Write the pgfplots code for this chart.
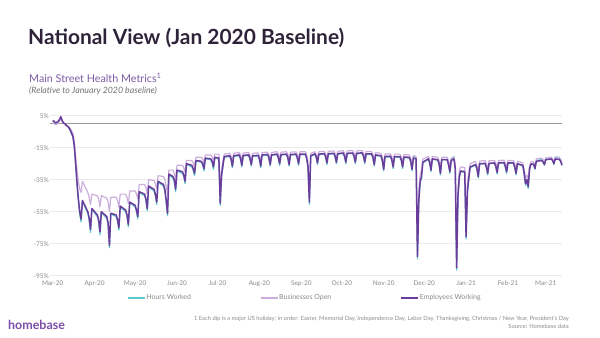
\documentclass[border=0pt]{standalone}
\usepackage{pgfplots}
\pgfplotsset{compat=1.18}
\usepackage{pgfplotstable}
\usepackage{fontspec}
\setmainfont{Lato}
\definecolor{hrs}{HTML}{5FCACB}
\definecolor{biz}{HTML}{CBAEDC}
\definecolor{emp}{HTML}{6A3D9C}
\definecolor{titlec}{HTML}{2E2339}
\definecolor{subc}{HTML}{7D5BA6}
\definecolor{tickc}{HTML}{8A8A8A}
\definecolor{gridc}{HTML}{EBEBEB}
\definecolor{logoc}{HTML}{7A4DA8}
\pgfplotstableread{
d emp biz hrs
0 2.0 0.5 1.5
1 1.5 0.0 1.0
2 0.5 -0.5 0.3
3 0.8 -0.3 0.5
4 1.5 0.3 1.2
5 2.5 1.5 2.2
6 4.4 3.5 4.2
7 2.0 1.5 1.8
8 0.5 0.3 0.3
9 0.0 -0.5 -0.2
10 -1.0 -1.0 -1.2
11 -1.5 -1.5 -1.7
12 -2.5 -2.0 -2.8
13 -4.0 -3.0 -4.3
14 -6.0 -4.5 -6.5
15 -8 -6 -8.5
16 -14 -11 -14.5
17 -25 -20 -25.5
18 -37 -29 -38
19 -47 -36 -48
20 -55 -41 -56.5
21 -59.6 -43 -61.5
22 -48 -36 -48.5
26 -55 -43 -56
27 -59 -46 -60.5
28 -66 -50.5 -68
29 -53 -44 -53.5
33 -57 -45 -58
34 -60 -47 -61.5
35 -67.5 -52 -69.5
36 -55 -45 -55.5
40 -58 -46.5 -59
41 -62 -49 -63.5
42 -76 -55 -77.5
43 -56 -46 -56.5
47 -57 -46 -58
48 -60 -48 -61
49 -65 -52 -66.5
50 -51.5 -44 -52
54 -54 -44 -55
55 -57 -46 -58
56 -63 -50 -64.5
57 -49 -42 -49.5
61 -51 -42 -52
62 -54 -44 -55
63 -58 -47 -59.5
64 -42.5 -38 -43
68 -44 -38 -45
69 -47 -40 -48
70 -53 -44 -54.5
71 -39 -35 -39.5
75 -41 -35.5 -42
76 -44 -37.5 -45
77 -49 -41 -50.5
78 -36 -32.5 -36.5
82 -38 -33 -39
83 -41 -35 -42
84 -48 -39 -49
85 -56 -44 -57.5
86 -31.5 -29 -32
89 -33 -29 -34
90 -35 -31 -36
91 -41 -35 -42.5
92 -29 -26 -29.5
96 -30 -26 -31
97 -32 -27.5 -33
98 -36 -30.5 -37.5
99 -25 -23 -25.5
103 -26 -23 -27
104 -28 -24.5 -29
105 -31 -27 -32.5
106 -23 -21 -23.5
110 -23.5 -21 -24
111 -25 -22 -26
112 -28 -24.5 -29.5
113 -21.5 -19.5 -22
117 -22 -19.5 -22.5
118 -23.5 -20.5 -24.5
119 -27 -23.5 -28.5
120 -21 -19 -21.5
123 -21.5 -19 -22
124 -49.6 -45 -51
125 -32 -29 -33
126 -26 -23 -27
127 -20.5 -19 -21
131 -20 -18.5 -20.5
132 -22 -20 -22.5
133 -26.5 -23 -27.5
134 -20 -18.5 -20.5
138 -19.5 -18 -20
139 -21.5 -19.5 -22
140 -26 -22.5 -27
141 -19.8 -18.3 -20.2
145 -19.5 -18 -20
146 -21.5 -19.5 -22
147 -25.5 -22.5 -26.5
148 -20 -18.5 -20.5
152 -19.8 -18.2 -20.2
153 -21.8 -19.8 -22.3
154 -26.5 -23 -27.5
155 -19.5 -18 -20
159 -19.2 -17.8 -19.6
160 -21 -19.2 -21.5
161 -25.5 -22.5 -26.5
162 -19.5 -18 -19.8
166 -19 -17.5 -19.3
167 -21 -19 -21.5
168 -25 -22 -26
169 -19.3 -17.8 -19.6
173 -19 -17.5 -19.3
174 -21 -19 -21.5
175 -25.5 -22.5 -26.5
176 -19.3 -17.8 -19.6
180 -19 -17.6 -19.4
181 -21 -19 -21.5
182 -25 -22 -26
183 -19 -17.5 -19.3
187 -19 -17.5 -19.4
188 -21.5 -19.5 -22
189 -27 -24 -28
190 -49 -44 -50.5
191 -20 -18.5 -20.5
194 -18.8 -17.5 -19.2
195 -20.5 -19 -21
196 -24.5 -21.5 -25.5
197 -19 -17.5 -19.3
201 -18.7 -17.3 -19
202 -20.5 -18.8 -21
203 -24.5 -21.5 -25.5
204 -18.8 -17.3 -19.2
208 -18.5 -17 -18.8
209 -20.3 -18.5 -20.8
210 -24 -21.3 -25
211 -18.7 -17.2 -19
215 -18.3 -16.9 -18.7
216 -20.2 -18.5 -20.6
217 -24 -21 -25
218 -18.5 -17 -18.8
222 -18.3 -16.8 -18.6
223 -20 -18.3 -20.5
224 -24 -21 -25
225 -18.5 -17 -18.8
229 -18.2 -16.8 -18.6
230 -20 -18.3 -20.5
231 -24 -21.2 -25
232 -18.8 -17.3 -19.2
236 -18.8 -17.3 -19.2
237 -20.8 -19 -21.3
238 -25.5 -22.5 -26.5
239 -19.5 -18 -20
243 -20 -18.5 -20.3
244 -23 -21 -23.5
245 -28.5 -25 -29.5
246 -20.5 -19 -21
250 -20.3 -18.8 -20.8
251 -22.5 -20.5 -23
252 -27 -24 -28
253 -20.5 -19 -21
257 -20.5 -19 -21
258 -22.5 -20.5 -23
259 -27 -24 -28
260 -20.8 -19.3 -21.2
264 -21 -19.5 -21.5
265 -23.5 -21.5 -24
266 -28.5 -25 -29.5
267 -21.5 -20 -20
269 -22 -20.5 -21.5
270 -83 -75 -84.5
271 -48 -42 -49.5
272 -36 -32 -37
273 -33 -29 -34
274 -24 -22 -24.5
278 -22 -20.5 -22.3
279 -24 -22 -24.5
280 -29 -26 -30
281 -22 -20.5 -22.3
285 -22.5 -21 -22.8
286 -25 -23 -25.5
287 -31 -27.5 -32
288 -22.5 -21 -22.5
292 -22.5 -21 -22.5
293 -25.5 -23 -26
294 -30 -27 -31
295 -23 -21.5 -22.5
297 -22 -21 -20.5
298 -28 -25 -28.5
299 -90 -80 -91.5
300 -45 -40 -46
301 -33 -29 -34
302 -29.5 -27 -30
305 -30 -27.5 -30.5
306 -70.6 -63 -72
307 -42 -37 -43
308 -34 -30 -35
309 -27 -25 -27.5
313 -25.5 -23.5 -26
314 -28 -26 -28.5
315 -33 -29.5 -34
316 -25 -23.5 -25.3
320 -24.8 -23 -25
321 -27 -25 -27.5
322 -31 -28 -32
323 -24.8 -23.2 -25
327 -24.5 -23 -24.8
328 -26.5 -24.5 -27
329 -30.5 -27.5 -31.5
330 -24.5 -23 -24.8
334 -24.3 -22.8 -24.5
335 -26.5 -24.5 -27
336 -30 -27 -31
337 -24.5 -23 -24.8
341 -24.5 -23 -24.8
342 -27 -25 -27.5
343 -31 -28 -32
344 -25 -23.5 -25.3
348 -26 -24.5 -26.5
349 -31 -28.5 -31.5
350 -37.5 -34 -38.5
351 -35 -32 -36
352 -39.3 -35.5 -40.5
353 -28 -26 -28.5
354 -25.5 -24 -25.5
355 -25 -23.5 -25
356 -25.5 -24 -25.5
357 -28 -26 -28.5
358 -23.5 -22 -23
362 -23 -21.5 -22.5
363 -24 -22.5 -23.5
364 -25.5 -23.5 -26
365 -22.5 -21.5 -21.5
369 -22 -21 -21
370 -23 -22 -22.5
371 -25 -23.5 -25.5
372 -22 -21 -20.8
375 -22.3 -21.3 -21
376 -23.5 -22.5 -22.5
377 -26 -24.5 -25.8
}\data
\begin{document}
\begin{tikzpicture}
\fill[white] (0bp,0bp) rectangle (600bp,-338bp);
\node[anchor=west, inner sep=0pt, font=\fontsize{21}{24}\selectfont\bfseries, text=titlec] at (28bp,-38bp) {National View (Jan 2020 Baseline)};
\node[anchor=west, inner sep=0pt, font=\fontsize{10.8}{12}\selectfont, text=subc] at (29bp,-78bp) {Main Street Health Metrics\textsuperscript{1}};
\node[anchor=west, inner sep=0pt, font=\fontsize{8.8}{10}\selectfont\itshape, text=black!55] at (29bp,-91bp) {(Relative to January 2020 baseline)};
\node[anchor=west, inner sep=0pt, font=\fontsize{12.5}{14}\selectfont\bfseries, text=logoc] at (8bp,-325bp) {homebase};
\node[anchor=east, inner sep=0pt, font=\fontsize{5.8}{7}\selectfont, text=black!45] at (569bp,-319bp) {1 Each dip is a major US holiday; in order: Easter, Memorial Day, Independence Day, Labor Day, Thanksgiving, Christmas / New Year, President's Day};
\node[anchor=east, inner sep=0pt, font=\fontsize{5.8}{7}\selectfont, text=black!45] at (569bp,-326.5bp) {Source: Homebase data};
\begin{axis}[
  at={(50bp,-275.7bp)}, anchor=south west,
  scale only axis, width=512bp, height=160bp,
  xmin=-2, xmax=377, ymin=-95, ymax=5,
  clip=false,
  axis line style={draw=none},
  tick style={draw=none},
  ymajorgrids, grid style={gridc, line width=0.8pt},
  ytick={-95,-75,-55,-35,-15,5},
  yticklabels={-95\%,-75\%,-55\%,-35\%,-15\%,5\%},
  xtick={0,31,61,92,122,153,184,214,245,275,306,337,365},
  xticklabels={Mar-20,Apr-20,May-20,Jun-20,Jul-20,Aug-20,Sep-20,Oct-20,Nov-20,Dec-20,Jan-21,Feb-21,Mar-21},
  ticklabel style={font=\fontsize{6.5}{8}\selectfont, text=tickc},
  yticklabel style={inner sep=1bp},
  xticklabel style={inner sep=1bp, yshift=-3.5bp},
  legend columns=3,
  legend style={at={(0.1504,-0.139)}, anchor=west, draw=none, fill=none,
    font=\fontsize{7}{8}\selectfont, text=tickc, inner sep=0pt,
    nodes={inner sep=1bp},
    /tikz/every even column/.append style={column sep=68bp}},
  legend image code/.code={\draw[#1] (0bp,0bp) -- (17bp,0bp);},
]
\draw[black!40, line width=1pt] (axis cs:-2,0) -- (axis cs:377,0);
\addplot[hrs, line width=1.2pt, line join=round] table[x=d, y=hrs]{\data};
\addlegendentry{Hours Worked}
\addplot[biz, line width=1.2pt, line join=round] table[x=d, y=biz]{\data};
\addlegendentry{Businesses Open}
\addplot[emp, line width=1.5pt, line join=round] table[x=d, y=emp]{\data};
\addlegendentry{Employees Working}
\end{axis}
\end{tikzpicture}
\end{document}
